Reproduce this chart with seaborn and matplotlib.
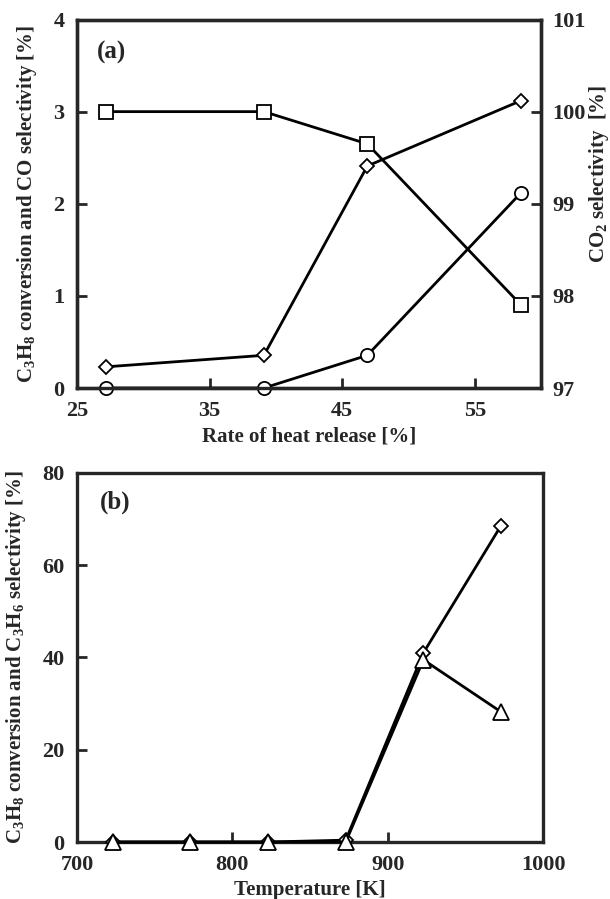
import matplotlib
matplotlib.use('Agg')
import matplotlib.pyplot as plt
import seaborn as sns

# (a) values
heat_release = [27.2, 39.1, 46.9, 58.5]
c3h8_conv_a = [0.23, 0.355, 2.41, 3.12]
co_sel = [0.0, 0.0, 0.355, 2.12]
co2_sel = [100.0, 100.0, 99.65, 97.9]

# (b) values
temperature = [723, 773, 823, 873, 923, 973]
c3h8_conv_b = [0.0, 0.0, 0.0, 0.4, 41.0, 68.6]
c3h6_sel = [0.0, 0.0, 0.0, 0.0, 39.5, 28.2]

sns.set_style('ticks')
plt.rcParams['font.family'] = ['Liberation Serif', 'DejaVu Serif']
plt.rcParams['font.weight'] = 'bold'
plt.rcParams['axes.labelweight'] = 'bold'
plt.rcParams['mathtext.fontset'] = 'custom'
plt.rcParams['mathtext.rm'] = 'Liberation Serif:bold'
plt.rcParams['mathtext.bf'] = 'Liberation Serif:bold'
plt.rcParams['mathtext.it'] = 'Liberation Serif:bold:italic'

fs_tick = 16
fs_lab = 15
lw_axis = 2.4
lw_line = 2.0

fig = plt.figure(figsize=(6.10, 8.99), dpi=100)
ax_a = fig.add_axes([0.1262, 0.5684, 0.7607, 0.4099])
ax_b = fig.add_axes([0.1262, 0.0634, 0.7640, 0.4105])

mk = dict(color='black', linewidth=lw_line, markerfacecolor='white',
          markeredgecolor='black', markeredgewidth=1.3, clip_on=False, zorder=5)

# panel (a)
sns.lineplot(x=heat_release, y=co_sel, marker='o', markersize=9.5, ax=ax_a, **mk)
sns.lineplot(x=heat_release, y=c3h8_conv_a, marker='D', markersize=7.5, ax=ax_a, **mk)
ax_a.set_xlim(25, 60)
ax_a.set_ylim(0, 4)
ax_a.set_xticks([25, 35, 45, 55])
ax_a.set_yticks([0, 1, 2, 3, 4])
ax_a.set_xlabel('Rate of heat release [%]', fontsize=fs_lab, labelpad=4)
ax_a.set_ylabel(r'$\mathregular{C_3H_8}$ conversion and CO selectivity [%]',
                fontsize=fs_lab, labelpad=10)
ax_a.text(0.043, 0.91, '(a)', transform=ax_a.transAxes, fontsize=18,
          ha='left', va='center')

ax_a2 = ax_a.twinx()
sns.lineplot(x=heat_release, y=co2_sel, marker='s', markersize=10, ax=ax_a2, **mk)
ax_a2.set_ylim(97, 101)
ax_a2.set_yticks([97, 98, 99, 100, 101])
ax_a2.set_ylabel(r'$\mathregular{CO_2}$ selectivity  [%]', fontsize=fs_lab)
ax_a2.yaxis.set_label_coords(1.099, 0.58)

# panel (b)
sns.lineplot(x=temperature, y=c3h8_conv_b, marker='D', markersize=7.5, ax=ax_b, **mk)
sns.lineplot(x=temperature, y=c3h6_sel, marker='^', markersize=11, ax=ax_b, **mk)
ax_b.set_xlim(700, 1000)
ax_b.set_ylim(0, 80)
ax_b.set_xticks([700, 800, 900, 1000])
ax_b.set_yticks([0, 20, 40, 60, 80])
ax_b.set_xlabel('Temperature [K]', fontsize=fs_lab, labelpad=4)
ax_b.set_ylabel(r'$\mathregular{C_3H_8}$ conversion and $\mathregular{C_3H_6}$ selectivity [%]',
                fontsize=fs_lab, labelpad=10)
ax_b.text(0.05, 0.92, '(b)', transform=ax_b.transAxes, fontsize=18,
          ha='left', va='center')

for ax in (ax_a, ax_a2, ax_b):
    for s in ax.spines.values():
        s.set_linewidth(lw_axis)
        s.set_visible(True)
    ax.tick_params(direction='in', length=7, width=2, labelsize=fs_tick, pad=9)
    for lab in ax.get_xticklabels() + ax.get_yticklabels():
        lab.set_fontweight('bold')

ax_a.tick_params(top=False, right=False)
ax_a2.tick_params(axis='y', right=True, left=False, pad=8)
ax_b.tick_params(top=False, right=False)

fig.savefig('out.png', dpi=100, facecolor='white')
